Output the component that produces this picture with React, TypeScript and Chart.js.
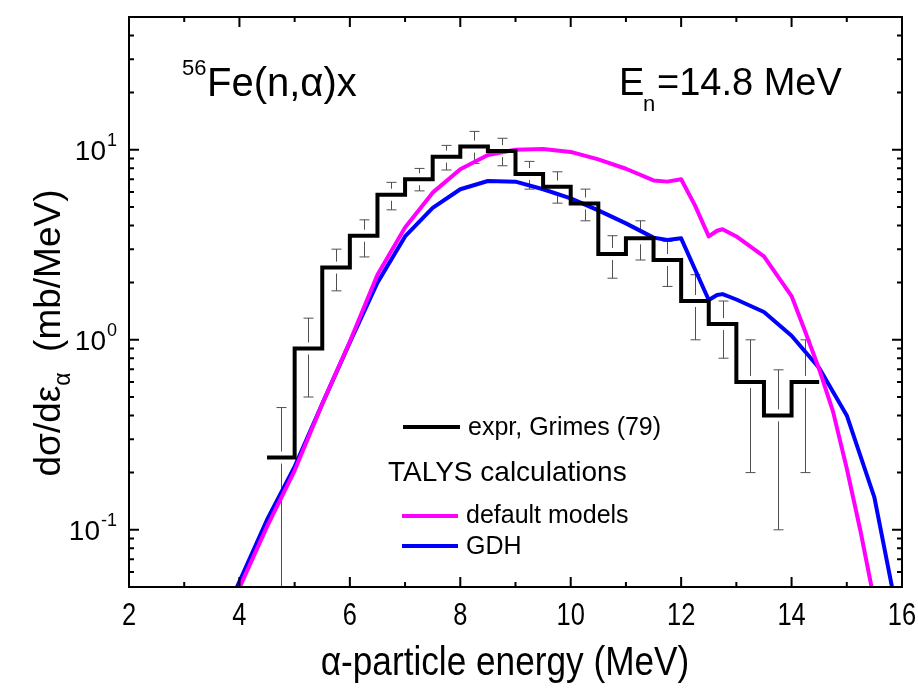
import React, { useEffect, useRef } from 'react';
import { Chart, registerables } from 'chart.js';

Chart.register(...registerables);

// ---------- data ----------
const binLeftEdges = [4.5, 5.0, 5.5, 6.0, 6.5, 7.0, 7.5, 8.0, 8.5, 9.0, 9.5, 10.0, 10.5, 11.0, 11.5, 12.0, 12.5, 13.0, 13.5, 14.0];
const binWidth = 0.5;
const expValues = [0.24, 0.9, 2.4, 3.53, 5.8, 7.0, 9.2, 10.4, 9.85, 7.45, 6.4, 5.22, 2.83, 3.42, 2.63, 1.6, 1.21, 0.6, 0.4, 0.6];
const expErrHigh = [0.44, 1.3, 3.0, 4.28, 6.74, 7.98, 10.55, 12.5, 11.5, 8.69, 7.66, 6.21, 3.53, 4.23, 3.3, 2.2, 1.6, 1.0, 0.695, 1.0];
const expErrLow = [0.01, 0.5, 1.81, 2.73, 4.83, 6.08, 7.83, 8.48, 8.24, 6.21, 5.24, 4.23, 2.11, 2.63, 1.91, 1.0, 0.8, 0.2, 0.1, 0.2];

const defaultEnergy = [3.95, 4.5, 5.0, 5.5, 6.0, 6.5, 7.0, 7.5, 8.0, 8.5, 9.0, 9.5, 10.0, 10.5, 11.0, 11.5, 11.75, 12.0, 12.25, 12.5, 12.65, 12.75, 13.0, 13.5, 14.0, 14.25, 14.5, 14.75, 15.0, 15.25, 15.5];
const defaultValues = [0.046, 0.104, 0.205, 0.46, 0.98, 2.2, 3.9, 5.95, 7.9, 9.4, 10.0, 10.1, 9.75, 8.9, 7.95, 6.9, 6.8, 7.0, 5.1, 3.5, 3.75, 3.82, 3.5, 2.75, 1.7, 1.1, 0.7, 0.42, 0.21, 0.098, 0.042];

const gdhEnergy = [3.9, 4.5, 5.0, 5.5, 6.0, 6.5, 7.0, 7.5, 8.0, 8.5, 9.0, 9.5, 10.0, 10.5, 11.0, 11.5, 11.75, 12.0, 12.25, 12.5, 12.65, 12.75, 13.0, 13.5, 14.0, 14.5, 15.0, 15.5, 15.85];
const gdhValues = [0.046, 0.113, 0.215, 0.46, 0.97, 2.0, 3.5, 4.95, 6.2, 6.85, 6.8, 6.2, 5.55, 4.8, 4.1, 3.45, 3.35, 3.42, 2.35, 1.62, 1.72, 1.74, 1.63, 1.4, 1.05, 0.71, 0.4, 0.148, 0.045];

const xMin = 2;
const xMax = 16;
const yMin = 0.05;
const yMax = 50;
const xMajorTicks = [2, 4, 6, 8, 10, 12, 14, 16];
const xMinorTicks = [3, 5, 7, 9, 11, 13, 15];
const yMajorTicks = [0.1, 1, 10];
const yMajorExponents = ['-1', '0', '1'];
const yMinorTicks = [0.06, 0.07, 0.08, 0.09, 0.2, 0.3, 0.4, 0.5, 0.6, 0.7, 0.8, 0.9, 2, 3, 4, 5, 6, 7, 8, 9, 20, 30, 40];

const legendExp = 'expr, Grimes (79)';
const legendHeader = 'TALYS calculations';
const legendDefault = 'default models';
const legendGdh = 'GDH';

const FONT = '"Liberation Sans", Arial, Helvetica, sans-serif';

function histogramPoints() {
  const pts = binLeftEdges.map((e, i) => ({ x: e, y: expValues[i] }));
  pts.push({ x: binLeftEdges[binLeftEdges.length - 1] + binWidth, y: expValues[expValues.length - 1] });
  return pts;
}

const decorPlugin = {
  id: 'decor',
  beforeDatasetsDraw(chart: any) {
    const { ctx, chartArea, scales } = chart;
    const xs = scales.x;
    const ys = scales.y;
    ctx.save();
    ctx.beginPath();
    ctx.rect(chartArea.left, chartArea.top, chartArea.right - chartArea.left, chartArea.bottom - chartArea.top);
    ctx.clip();
    ctx.strokeStyle = '#505050';
    ctx.lineWidth = 1;
    const gap = 6;
    const cap = 5;
    binLeftEdges.forEach((e, i) => {
      const px = Math.round(xs.getPixelForValue(e + binWidth / 2)) + 0.5;
      const pc = ys.getPixelForValue(expValues[i]);
      const ph = ys.getPixelForValue(expErrHigh[i]);
      const pl = ys.getPixelForValue(expErrLow[i]);
      ctx.beginPath();
      ctx.moveTo(px, ph);
      ctx.lineTo(px, pc - gap);
      ctx.moveTo(px, pc + gap);
      ctx.lineTo(px, pl);
      ctx.moveTo(px - cap, ph);
      ctx.lineTo(px + cap, ph);
      ctx.moveTo(px - cap, pl);
      ctx.lineTo(px + cap, pl);
      ctx.stroke();
    });
    ctx.restore();
  },
  afterDatasetsDraw(chart: any) {
    const { ctx, chartArea, scales } = chart;
    const xs = scales.x;
    const ys = scales.y;
    const { left, right, top, bottom } = chartArea;
    ctx.save();
    ctx.strokeStyle = '#000';
    ctx.fillStyle = '#000';
    ctx.lineWidth = 2;
    ctx.strokeRect(left, top, right - left, bottom - top);

    const major = 10;
    const minor = 5;
    ctx.beginPath();
    xMajorTicks.forEach((v) => {
      const p = xs.getPixelForValue(v);
      ctx.moveTo(p, bottom); ctx.lineTo(p, bottom - major);
      ctx.moveTo(p, top); ctx.lineTo(p, top + major);
    });
    xMinorTicks.forEach((v) => {
      const p = xs.getPixelForValue(v);
      ctx.moveTo(p, bottom); ctx.lineTo(p, bottom - minor);
      ctx.moveTo(p, top); ctx.lineTo(p, top + minor);
    });
    yMajorTicks.forEach((v) => {
      const p = ys.getPixelForValue(v);
      ctx.moveTo(left, p); ctx.lineTo(left + major, p);
      ctx.moveTo(right, p); ctx.lineTo(right - major, p);
    });
    yMinorTicks.forEach((v) => {
      const p = ys.getPixelForValue(v);
      ctx.moveTo(left, p); ctx.lineTo(left + minor, p);
      ctx.moveTo(right, p); ctx.lineTo(right - minor, p);
    });
    ctx.stroke();

    // x tick labels (condensed)
    ctx.textBaseline = 'alphabetic';
    ctx.textAlign = 'center';
    xMajorTicks.forEach((v) => {
      const p = xs.getPixelForValue(v);
      ctx.save();
      ctx.translate(p, bottom + 38);
      ctx.scale(0.82, 1);
      ctx.font = `31px ${FONT}`;
      ctx.fillText(String(v), 0, 0);
      ctx.restore();
    });

    // y tick labels 10^n
    yMajorTicks.forEach((v, i) => {
      const p = ys.getPixelForValue(v);
      ctx.font = `18px ${FONT}`;
      const ew = ctx.measureText(yMajorExponents[i]).width;
      const xr = left - 12;
      ctx.textAlign = 'right';
      ctx.fillText(yMajorExponents[i], xr, p - 4);
      ctx.font = `28px ${FONT}`;
      ctx.fillText('10', xr - ew - 1, p + 10);
    });

    // x title
    ctx.save();
    ctx.translate(505, bottom + 88);
    ctx.scale(0.88, 1);
    ctx.font = `40px ${FONT}`;
    ctx.textAlign = 'center';
    ctx.fillText('\u03b1-particle energy (MeV)', 0, 0);
    ctx.restore();

    // y title (rotated), composed of parts
    ctx.save();
    ctx.translate(60, 333);
    ctx.rotate(-Math.PI / 2);
    ctx.textAlign = 'left';
    const big = 37;
    const small = 23;
    ctx.font = `${big}px ${FONT}`;
    const partA = 'd\u03c3/d\u03b5';
    const partC = '  (mb/MeV)';
    const wA = ctx.measureText(partA).width;
    ctx.font = `${small}px ${FONT}`;
    const wB = ctx.measureText('\u03b1').width;
    ctx.font = `${big}px ${FONT}`;
    const wC = ctx.measureText(partC).width;
    let x0 = -(wA + wB + wC) / 2;
    ctx.fillText(partA, x0, 0);
    x0 += wA;
    ctx.font = `${small}px ${FONT}`;
    ctx.fillText('\u03b1', x0, 10);
    x0 += wB;
    ctx.font = `${big}px ${FONT}`;
    ctx.fillText(partC, x0, 0);
    ctx.restore();

    // annotations
    ctx.textAlign = 'left';
    ctx.font = `22px ${FONT}`;
    ctx.fillText('56', 182, 75);
    ctx.font = `40px ${FONT}`;
    ctx.fillText('Fe(n,\u03b1)x', 207, 96);

    ctx.font = `38px ${FONT}`;
    ctx.fillText('E', 619, 95);
    ctx.font = `22px ${FONT}`;
    ctx.fillText('n', 643, 111);
    ctx.font = `38px ${FONT}`;
    ctx.fillText('=14.8 MeV', 657, 95);

    // legend
    ctx.lineWidth = 4;
    ctx.lineCap = 'butt';
    ctx.strokeStyle = '#000';
    ctx.beginPath(); ctx.moveTo(403, 427); ctx.lineTo(460, 427); ctx.stroke();
    ctx.strokeStyle = '#ff00ff';
    ctx.beginPath(); ctx.moveTo(402, 516); ctx.lineTo(458, 516); ctx.stroke();
    ctx.strokeStyle = '#0000ff';
    ctx.beginPath(); ctx.moveTo(402, 546); ctx.lineTo(458, 546); ctx.stroke();
    ctx.textBaseline = 'middle';
    ctx.font = `25px ${FONT}`;
    ctx.fillText(legendExp, 468, 428);
    ctx.font = `28px ${FONT}`;
    ctx.fillText(legendHeader, 388, 473);
    ctx.font = `25px ${FONT}`;
    ctx.fillText(legendDefault, 466, 516);
    ctx.fillText(legendGdh, 466, 547);
    ctx.restore();
  },
};

export default function App() {
  const ref = useRef<HTMLCanvasElement | null>(null);
  useEffect(() => {
    document.body.style.margin = '0';
    const canvas = ref.current;
    if (!canvas) return;
    const chart = new Chart(canvas, {
      type: 'line',
      data: {
        datasets: [
          {
            label: legendExp,
            data: histogramPoints(),
            stepped: 'before',
            borderColor: '#000000',
            borderWidth: 4,
            borderJoinStyle: 'miter',
            pointRadius: 0,
            fill: false,
          },
          {
            label: legendDefault,
            data: defaultEnergy.map((e, i) => ({ x: e, y: defaultValues[i] })),
            borderColor: '#ff00ff',
            borderWidth: 4,
            borderJoinStyle: 'round',
            pointRadius: 0,
            tension: 0,
            fill: false,
          },
          {
            label: legendGdh,
            data: gdhEnergy.map((e, i) => ({ x: e, y: gdhValues[i] })),
            borderColor: '#0000ff',
            borderWidth: 4,
            borderJoinStyle: 'round',
            pointRadius: 0,
            tension: 0,
            fill: false,
          },
        ],
      },
      options: {
        animation: false,
        responsive: false,
        devicePixelRatio: 1,
        layout: { padding: { left: 129, right: 16, top: 17, bottom: 108 } },
        plugins: { legend: { display: false }, tooltip: { enabled: false }, title: { display: false } },
        scales: {
          x: { type: 'linear', min: xMin, max: xMax, display: false },
          y: { type: 'logarithmic', min: yMin, max: yMax, display: false },
        },
      },
      plugins: [decorPlugin],
    } as any);
    return () => chart.destroy();
  }, []);
  return (
    <div style={{ position: 'absolute', left: 0, top: 0, width: 918, height: 695, background: '#fff' }}>
      <canvas ref={ref} width={918} height={695} style={{ width: 918, height: 695 }} />
    </div>
  );
}
